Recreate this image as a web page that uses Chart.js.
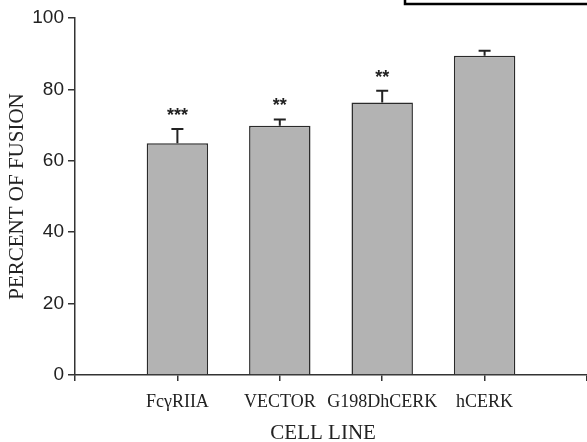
<!DOCTYPE html>
<html>
<head>
<meta charset="utf-8">
<script src="https://cdn.jsdelivr.net/npm/chart.js@4"></script>
<style>
  html, body { margin: 0; padding: 0; background: #fff; }
  #wrap { width: 587px; height: 442px; }
</style>
</head>
<body>
<div id="wrap"><canvas id="fusionChart" width="587" height="442"></canvas></div>
<script>
  // data
  const cellLines = ["FcγRIIA", "VECTOR", "G198DhCERK", "hCERK"];
  const fusion = [64.9, 69.8, 76.3, 89.4];
  const errUp = [4.0, 1.8, 3.3, 1.4];
  const stars = ["***", "**", "**", ""];
  const yTicks = [0, 20, 40, 60, 80, 100];

  // empty slot on each side so the bars sit one step in from the axes
  const labels = [""].concat(cellLines, [""]);
  const values = [null].concat(fusion, [null]);

  const serif = "'Liberation Serif', 'Times New Roman', serif";
  const sans = "'Liberation Sans', Arial, sans-serif";

  // error whiskers, significance stars and the cut-off box at the top
  const extras = {
    id: "extras",
    afterDatasetsDraw(chart) {
      const ctx = chart.ctx;
      const x = chart.scales.x, y = chart.scales.y;
      ctx.save();
      ctx.strokeStyle = "#222";
      ctx.lineWidth = 2;
      fusion.forEach((v, i) => {
        const cx = x.getPixelForValue(i + 1);
        const yTop = y.getPixelForValue(v);
        const yErr = y.getPixelForValue(v + errUp[i]);
        ctx.beginPath();
        ctx.moveTo(cx, yTop);
        ctx.lineTo(cx, yErr);
        ctx.moveTo(cx - 6, yErr);
        ctx.lineTo(cx + 6, yErr);
        ctx.stroke();
        if (stars[i]) {
          ctx.fillStyle = "#222";
          ctx.font = "bold 18px " + sans;
          ctx.textAlign = "center";
          ctx.textBaseline = "middle";
          ctx.fillText(stars[i], cx, yErr - 13);
        }
      });
      ctx.lineWidth = 2.5;
      ctx.strokeStyle = "#000";
      ctx.strokeRect(405, -10, 200, 14);
      ctx.restore();
    }
  };

  new Chart(document.getElementById("fusionChart"), {
    type: "bar",
    data: {
      labels: labels,
      datasets: [{
        data: values,
        backgroundColor: "#b3b3b3",
        borderColor: "#2a2a2a",
        borderWidth: 1.5,
        barPercentage: 0.6,
        categoryPercentage: 1
      }]
    },
    options: {
      responsive: false,
      animation: false,
      devicePixelRatio: 1,
      layout: { padding: { top: 18, right: 0, left: 0, bottom: 0 } },
      plugins: { legend: { display: false }, tooltip: { enabled: false } },
      scales: {
        x: {
          offset: false,
          afterFit(scale) { scale.height = 67; scale.paddingLeft = 0; scale.paddingRight = 0; },
          grid: { offset: false, drawOnChartArea: false, drawTicks: true, tickLength: 6, color: "#333", lineWidth: 1.5 },
          border: { color: "#333", width: 1.5 },
          ticks: { color: "#222", font: { family: serif, size: 18 }, padding: 10, maxRotation: 0, autoSkip: false },
          // trailing no-break spaces nudge the title a little left of the axis centre, as in the figure
          title: { display: true, text: "CELL LINE\u00a0\u00a0\u00a0", color: "#222", font: { family: serif, size: 21, lineHeight: 0.8 }, padding: { top: 0, bottom: 0 } }
        },
        y: {
          min: 0,
          max: 100,
          afterBuildTicks(scale) { scale.ticks = yTicks.map(v => ({ value: v })); },
          afterFit(scale) { scale.width = 75; scale.paddingTop = 0; scale.paddingBottom = 0; },
          grid: { drawOnChartArea: false, drawTicks: true, tickLength: 7, color: "#333", lineWidth: 1.5 },
          border: { color: "#333", width: 1.5 },
          ticks: { color: "#222", font: { family: sans, size: 19 }, padding: 4 },
          title: { display: true, text: "PERCENT OF FUSION", color: "#222", font: { family: serif, size: 21 }, padding: { top: 5, bottom: 0 } }
        }
      }
    },
    plugins: [extras]
  });
</script>
</body>
</html>
